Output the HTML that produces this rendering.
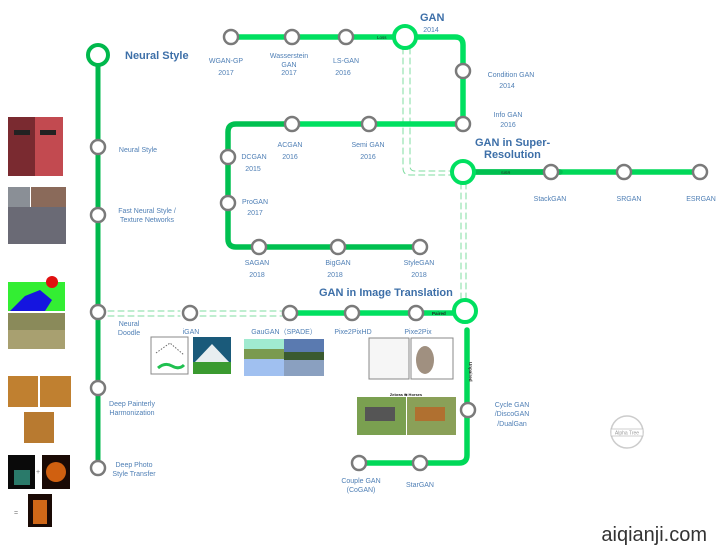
<!DOCTYPE html>
<html><head><meta charset="utf-8"><style>
html,body{margin:0;padding:0;background:#fff;}
svg{display:block;}
text{font-family:"Liberation Sans",sans-serif;}
.l{fill:#4f7fb5;font-size:7px;text-anchor:middle;}
.h{fill:#3d6fa8;font-size:11px;font-weight:bold;}
</style></head><body>
<svg width="720" height="554" viewBox="0 0 720 554" xmlns="http://www.w3.org/2000/svg">
<g fill="none" stroke-linecap="round">
<path d="M403 48 V168 Q403 175 410 175 H452" stroke="#7fdca0" stroke-width="1" stroke-dasharray="6,4"/>
<path d="M410 48 V166 Q410 171 415 171 H452" stroke="#7fdca0" stroke-width="1" stroke-dasharray="6,4"/>
<path d="M461 183 V300" stroke="#7fdca0" stroke-width="1" stroke-dasharray="6,4"/>
<path d="M466 183 V300" stroke="#7fdca0" stroke-width="1" stroke-dasharray="6,4"/>
<path d="M108 311 H180" stroke="#7fdca0" stroke-width="1" stroke-dasharray="6,4"/>
<path d="M108 316 H180" stroke="#7fdca0" stroke-width="1" stroke-dasharray="6,4"/>
<path d="M200 311 H282" stroke="#7fdca0" stroke-width="1" stroke-dasharray="6,4"/>
<path d="M200 316 H282" stroke="#7fdca0" stroke-width="1" stroke-dasharray="6,4"/>
<path d="M98 65 V468" stroke="#00b84c" stroke-width="5"/>
<path d="M231 37 H394" stroke="#00e060" stroke-width="5.5"/>
<path d="M416 37 H455 Q463 37 463 45 V124 H292" stroke="#00e060" stroke-width="5.5"/>
<path d="M292 124 H236 Q228 124 228 132 V239 Q228 247 236 247 H420" stroke="#00c050" stroke-width="5.5"/>
<path d="M474 172 H700" stroke="#00d858" stroke-width="5.5"/>
<path d="M474 172 H560" stroke="#00c050" stroke-width="5.5"/>
<path d="M290 313 H454" stroke="#00e060" stroke-width="5.5"/>
<path d="M467 330 V455 Q467 463 459 463 H359" stroke="#00d858" stroke-width="5.5"/>
<circle cx="98" cy="55" r="10" stroke="#00b84c" stroke-width="4" fill="#fff"/>
<circle cx="405" cy="37" r="11" stroke="#00e060" stroke-width="4" fill="#fff"/>
<circle cx="463" cy="172" r="11" stroke="#00e060" stroke-width="4" fill="#fff"/>
<circle cx="465" cy="311" r="11" stroke="#00e060" stroke-width="4" fill="#fff"/>
<g stroke="#7a7a7a" stroke-width="2.5" fill="#fff">
<circle cx="98" cy="147" r="7"/><circle cx="98" cy="215" r="7"/><circle cx="98" cy="312" r="7"/>
<circle cx="98" cy="388" r="7"/><circle cx="98" cy="468" r="7"/>
<circle cx="231" cy="37" r="7"/><circle cx="292" cy="37" r="7"/><circle cx="346" cy="37" r="7"/>
<circle cx="463" cy="71" r="7"/><circle cx="463" cy="124" r="7"/>
<circle cx="292" cy="124" r="7"/><circle cx="369" cy="124" r="7"/>
<circle cx="228" cy="157" r="7"/><circle cx="228" cy="203" r="7"/>
<circle cx="259" cy="247" r="7"/><circle cx="338" cy="247" r="7"/><circle cx="420" cy="247" r="7"/>
<circle cx="551" cy="172" r="7"/><circle cx="624" cy="172" r="7"/><circle cx="700" cy="172" r="7"/>
<circle cx="190" cy="313" r="7"/><circle cx="290" cy="313" r="7"/><circle cx="352" cy="313" r="7"/><circle cx="416" cy="313" r="7"/>
<circle cx="468" cy="410" r="7"/><circle cx="420" cy="463" r="7"/><circle cx="359" cy="463" r="7"/>
</g>
</g>
<text x="377" y="39" font-size="4.5" fill="#222">Loss</text>
<text x="501" y="174" font-size="4" fill="#222">SISR</text>
<text x="432" y="315" font-size="4.5" fill="#222" font-weight="bold">Paired</text>
<text x="0" y="0" font-size="4.5" fill="#222" font-weight="bold" transform="translate(469,362) rotate(90)">Unpaired</text>
<text class="h" x="125" y="59">Neural Style</text>
<text class="h" x="420" y="21">GAN</text>
<text class="l" x="431" y="32">2014</text>
<text class="h" x="475" y="146">GAN in Super-</text>
<text class="h" x="484" y="158">Resolution</text>
<text class="h" x="319" y="296">GAN in Image Translation</text>
<text class="l" x="226" y="63">WGAN-GP</text><text class="l" x="226" y="75">2017</text>
<text class="l" x="289" y="58">Wasserstein</text><text class="l" x="289" y="67">GAN</text><text class="l" x="289" y="75">2017</text>
<text class="l" x="346" y="63">LS-GAN</text><text class="l" x="343" y="75">2016</text>
<text class="l" x="511" y="77">Condition GAN</text><text class="l" x="507" y="88">2014</text>
<text class="l" x="508" y="117">Info GAN</text><text class="l" x="508" y="127">2016</text>
<text class="l" x="290" y="147">ACGAN</text><text class="l" x="290" y="159">2016</text>
<text class="l" x="368" y="147">Semi GAN</text><text class="l" x="368" y="159">2016</text>
<text class="l" x="254" y="159">DCGAN</text><text class="l" x="253" y="171">2015</text>
<text class="l" x="255" y="204">ProGAN</text><text class="l" x="255" y="215">2017</text>
<text class="l" x="257" y="265">SAGAN</text><text class="l" x="257" y="277">2018</text>
<text class="l" x="338" y="265">BigGAN</text><text class="l" x="335" y="277">2018</text>
<text class="l" x="419" y="265">StyleGAN</text><text class="l" x="419" y="277">2018</text>
<text class="l" x="550" y="201">StackGAN</text>
<text class="l" x="629" y="201">SRGAN</text>
<text class="l" x="701" y="201">ESRGAN</text>
<text class="l" x="138" y="152">Neural Style</text>
<text class="l" x="147" y="213">Fast Neural Style /</text><text class="l" x="147" y="222">Texture Networks</text>
<text class="l" x="129" y="326">Neural</text><text class="l" x="129" y="335">Doodle</text>
<text class="l" x="132" y="406">Deep Painterly</text><text class="l" x="132" y="415">Harmonization</text>
<text class="l" x="134" y="467">Deep Photo</text><text class="l" x="134" y="476">Style Transfer</text>
<text class="l" x="191" y="334">iGAN</text>
<text class="l" x="284" y="334">GauGAN（SPADE）</text>
<text class="l" x="353" y="334">Pixe2PixHD</text>
<text class="l" x="418" y="334">Pixe2Pix</text>
<text class="l" x="512" y="407">Cycle GAN</text><text class="l" x="512" y="416">/DiscoGAN</text><text class="l" x="512" y="426">/DualGan</text>
<text class="l" x="361" y="483">Couple GAN</text><text class="l" x="361" y="492">(CoGAN)</text>
<text class="l" x="420" y="487">StarGAN</text>
<rect x="8" y="117" width="27" height="59" fill="#7a2a30"/><rect x="35" y="117" width="28" height="59" fill="#c24a50"/>
<rect x="14" y="130" width="16" height="5" fill="#222"/><rect x="40" y="130" width="16" height="5" fill="#222"/>
<rect x="8" y="187" width="22" height="20" fill="#8a8f96"/><rect x="31" y="187" width="35" height="20" fill="#8a6a5a"/>
<rect x="8" y="207" width="58" height="37" fill="#6a6a75"/>
<rect x="8" y="275" width="57" height="7" fill="#fff"/><rect x="8" y="282" width="57" height="29" fill="#33ee33"/>
<path d="M10 311 L25 296 L40 290 L52 300 L45 311Z" fill="#1515e0"/><circle cx="52" cy="282" r="6" fill="#e01010"/>
<rect x="8" y="313" width="57" height="36" fill="#8a8a5a"/><rect x="8" y="330" width="57" height="19" fill="#a8a070"/>
<rect x="8" y="376" width="30" height="31" fill="#c08030"/><rect x="40" y="376" width="31" height="31" fill="#c08030"/>
<rect x="24" y="412" width="30" height="31" fill="#b87a30"/>
<rect x="8" y="455" width="27" height="34" fill="#0a0a0a"/><rect x="42" y="455" width="28" height="34" fill="#1a0a05"/>
<circle cx="56" cy="472" r="10" fill="#d06010"/><rect x="14" y="470" width="16" height="15" fill="#2a7a6a"/>
<text x="36" y="474" font-size="7" fill="#777">+</text><text x="14" y="515" font-size="7" fill="#777">=</text>
<rect x="28" y="494" width="24" height="33" fill="#1a0a05"/><rect x="33" y="500" width="14" height="24" fill="#d06818"/>
<rect x="151" y="337" width="37" height="37" fill="#fff" stroke="#888"/>
<path d="M156 353 L170 343 L184 355" stroke="#666" stroke-dasharray="1.5,1.5" fill="none"/>
<path d="M158 368 Q165 362 172 366 T184 365" stroke="#20c050" stroke-width="3" fill="none"/>
<rect x="193" y="337" width="38" height="37" fill="#1a5a7a"/><path d="M195 362 L212 344 L229 362Z" fill="#e8eef0"/><rect x="193" y="362" width="38" height="12" fill="#3a9a30"/>
<rect x="244" y="339" width="40" height="10" fill="#a0ead0"/><rect x="244" y="349" width="40" height="10" fill="#7a9a50"/><rect x="244" y="359" width="40" height="17" fill="#a0c0f0"/>
<rect x="284" y="339" width="40" height="37" fill="#5a7ab0"/><rect x="284" y="352" width="40" height="8" fill="#3a5a30"/><rect x="284" y="360" width="40" height="16" fill="#8aa0c0"/>
<rect x="369" y="338" width="40" height="41" fill="#f6f6f6" stroke="#888"/>
<rect x="411" y="338" width="42" height="41" fill="#fff" stroke="#888"/><ellipse cx="425" cy="360" rx="9" ry="14" fill="#a09080"/>
<text x="406" y="396" font-size="4" fill="#222" text-anchor="middle" font-weight="bold">Zebras ⇆ Horses</text>
<rect x="357" y="397" width="49" height="38" fill="#7aa050"/><rect x="407" y="397" width="49" height="38" fill="#8aa058"/>
<rect x="365" y="407" width="30" height="14" fill="#555"/><rect x="415" y="407" width="30" height="14" fill="#b07030"/>
<circle cx="627" cy="432" r="16" fill="none" stroke="#ccc" stroke-width="1.5"/>
<rect x="611" y="429" width="32" height="7" fill="#fff" stroke="#bbb" stroke-width="0.7"/>
<text x="627" y="434.5" font-size="5" fill="#999" text-anchor="middle">Alpha Tree</text>
<text x="707" y="541" font-size="20" fill="#333" text-anchor="end">aiqianji.com</text>
</svg>
</body></html>
